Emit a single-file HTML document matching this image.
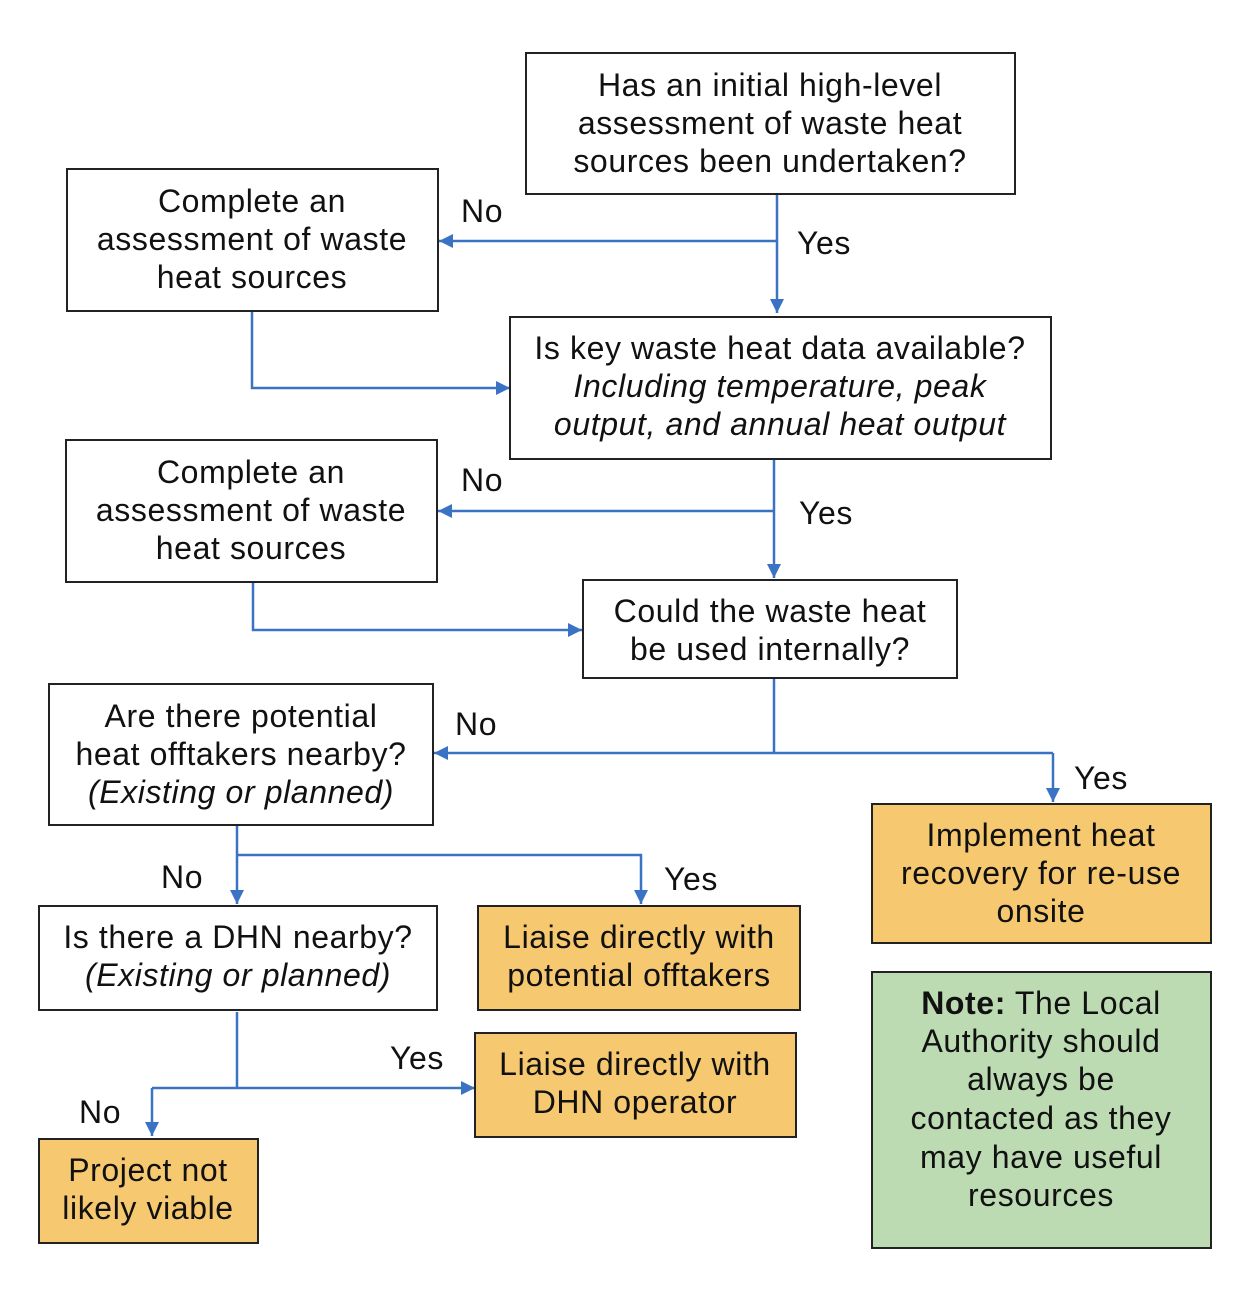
<!DOCTYPE html>
<html><head><meta charset="utf-8"><style>
html,body{margin:0;padding:0;background:#fff}
svg text{font-family:"Liberation Sans",Arial,sans-serif;font-size:32px;letter-spacing:0.6px;fill:#111}
.c{text-anchor:middle}
.i{font-style:italic}
</style></head><body>
<svg width="1234" height="1292" viewBox="0 0 1234 1292" xmlns="http://www.w3.org/2000/svg">
<defs>
<marker id="a" markerWidth="14" markerHeight="14" refX="12" refY="6" orient="auto" markerUnits="userSpaceOnUse" viewBox="0 0 12 12">
<path d="M0,0 L12,6 L0,12 z" fill="#3a73c4"/></marker>
</defs>
<g fill="none" stroke="#3a73c4" stroke-width="2.5">
<path d="M777,194 V313" marker-end="url(#a)"/>
<path d="M777,241 H439" marker-end="url(#a)"/>
<path d="M252,311 V388 H510" marker-end="url(#a)"/>
<path d="M774,459 V578" marker-end="url(#a)"/>
<path d="M774,511 H438" marker-end="url(#a)"/>
<path d="M253,582 V630 H582" marker-end="url(#a)"/>
<path d="M774,678 V753"/>
<path d="M1053,753 H434" marker-end="url(#a)"/>
<path d="M1053,753 V802" marker-end="url(#a)"/>
<path d="M237,825 V904" marker-end="url(#a)"/>
<path d="M237,855 H641 V904" marker-end="url(#a)"/>
<path d="M237,1012 V1088"/>
<path d="M152,1088 H475" marker-end="url(#a)"/>
<path d="M152,1088 V1136" marker-end="url(#a)"/>
</g>
<g stroke="#222" stroke-width="2">
<rect x="526" y="53" width="489" height="141" fill="#fff"/>
<rect x="67" y="169" width="371" height="142" fill="#fff"/>
<rect x="510" y="317" width="541" height="142" fill="#fff"/>
<rect x="66" y="440" width="371" height="142" fill="#fff"/>
<rect x="583" y="580" width="374" height="98" fill="#fff"/>
<rect x="49" y="684" width="384" height="141" fill="#fff"/>
<rect x="872" y="804" width="339" height="139" fill="#f6c86f"/>
<rect x="39" y="906" width="398" height="104" fill="#fff"/>
<rect x="478" y="906" width="322" height="104" fill="#f6c86f"/>
<rect x="475" y="1033" width="321" height="104" fill="#f6c86f"/>
<rect x="39" y="1139" width="219" height="104" fill="#f6c86f"/>
<rect x="872" y="972" width="339" height="276" fill="#bddbb3"/>
</g>
<text class="c" x="770" y="96">Has an initial high-level</text>
<text class="c" x="770" y="134">assessment of waste heat</text>
<text class="c" x="770" y="172">sources been undertaken?</text>
<text class="c" x="252" y="212">Complete an</text>
<text class="c" x="252" y="250">assessment of waste</text>
<text class="c" x="252" y="288">heat sources</text>
<text class="c" x="780" y="359">Is key waste heat data available?</text>
<text class="c i" x="780" y="397">Including temperature, peak</text>
<text class="c i" x="780" y="435">output, and annual heat output</text>
<text class="c" x="251" y="483">Complete an</text>
<text class="c" x="251" y="521">assessment of waste</text>
<text class="c" x="251" y="559">heat sources</text>
<text class="c" x="770" y="622">Could the waste heat</text>
<text class="c" x="770" y="660">be used internally?</text>
<text class="c" x="241" y="727">Are there potential</text>
<text class="c" x="241" y="765">heat offtakers nearby?</text>
<text class="c i" x="241" y="803">(Existing or planned)</text>
<text class="c" x="1041" y="846">Implement heat</text>
<text class="c" x="1041" y="884">recovery for re-use</text>
<text class="c" x="1041" y="922">onsite</text>
<text class="c" x="238" y="948">Is there a DHN nearby?</text>
<text class="c i" x="238" y="986">(Existing or planned)</text>
<text class="c" x="639" y="948">Liaise directly with</text>
<text class="c" x="639" y="986">potential offtakers</text>
<text class="c" x="635" y="1075">Liaise directly with</text>
<text class="c" x="635" y="1113">DHN operator</text>
<text class="c" x="148" y="1181">Project not</text>
<text class="c" x="148" y="1219">likely viable</text>
<text class="c" x="1041" y="1014"><tspan font-weight="bold">Note:</tspan> The Local</text>
<text class="c" x="1041" y="1052">Authority should</text>
<text class="c" x="1041" y="1090">always be</text>
<text class="c" x="1041" y="1129">contacted as they</text>
<text class="c" x="1041" y="1168">may have useful</text>
<text class="c" x="1041" y="1206">resources</text>
<text x="461" y="222">No</text>
<text x="797" y="254">Yes</text>
<text x="461" y="491">No</text>
<text x="799" y="524">Yes</text>
<text x="455" y="735">No</text>
<text x="1074" y="789">Yes</text>
<text x="161" y="888">No</text>
<text x="664" y="890">Yes</text>
<text x="390" y="1069">Yes</text>
<text x="79" y="1123">No</text>
</svg>
</body></html>
